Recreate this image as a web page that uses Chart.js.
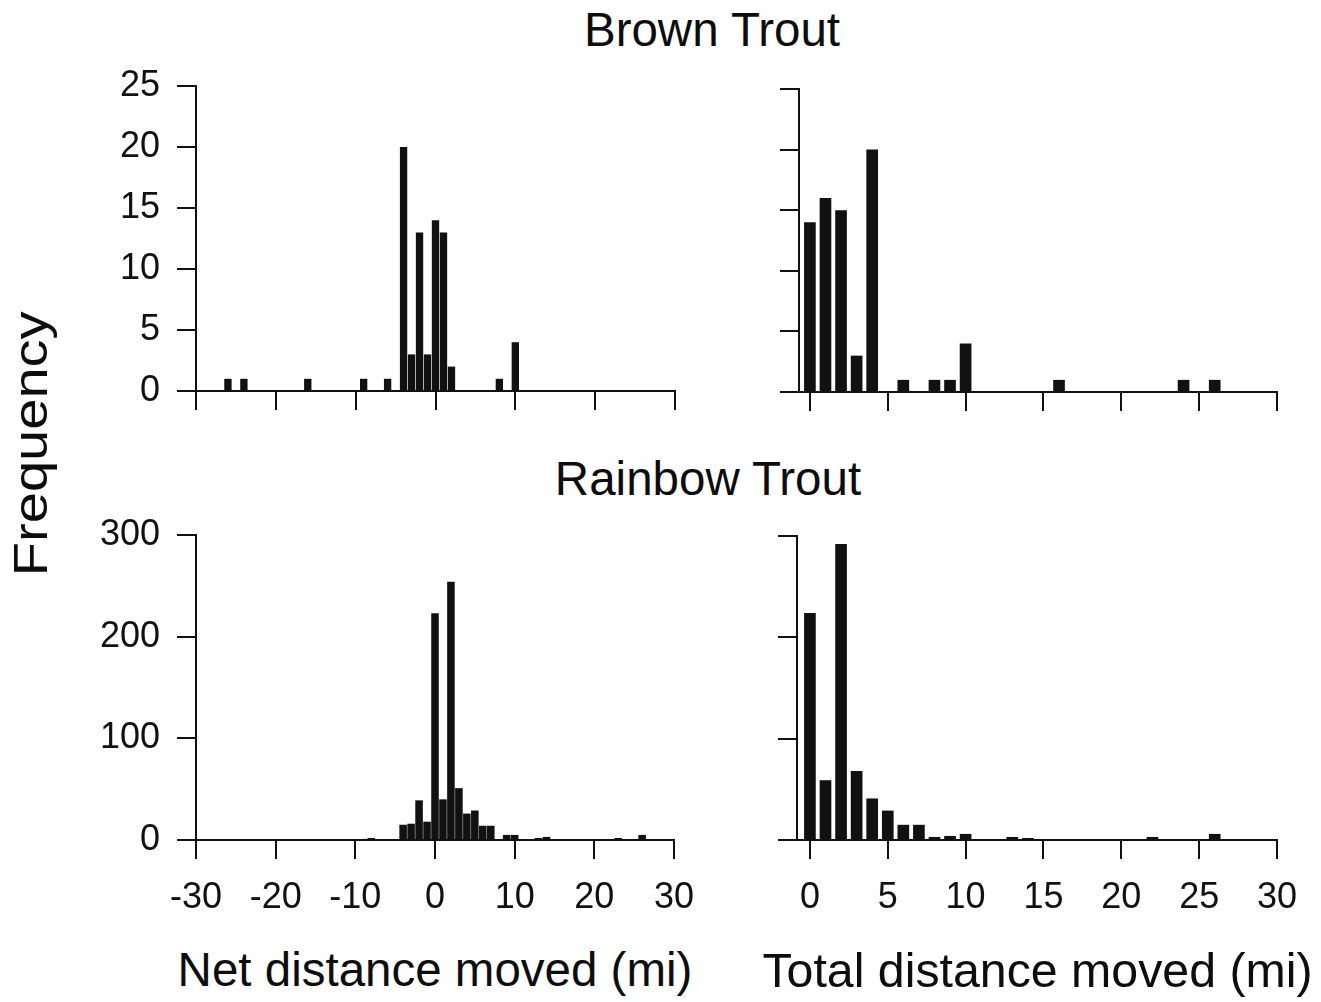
<!DOCTYPE html>
<html>
<head>
<meta charset="utf-8">
<script src="https://cdn.jsdelivr.net/npm/chart.js@4.4.1/dist/chart.umd.min.js"></script>
<style>
html,body{margin:0;padding:0;background:#fff;}
#wrap{position:relative;width:1321px;height:1002px;overflow:hidden;background:#fff;font-family:"Liberation Sans",Arial,sans-serif;color:#0d0d0d;}
canvas{position:absolute;}
.t{position:absolute;white-space:nowrap;font-size:47.5px;line-height:47.5px;text-align:center;width:700px;}
</style>
</head>
<body>
<div id="wrap">
  <div class="t" style="left:362px;top:5.5px;">Brown Trout</div>
  <div class="t" style="left:358px;top:455px;">Rainbow Trout</div>
  <div class="t" style="left:85px;top:946px;">Net distance moved (mi)</div>
  <div class="t" style="left:687.5px;top:945.5px;font-size:48.3px;line-height:48.3px;">Total distance moved (mi)</div>
  <div class="t" id="freq" style="left:-319px;top:420px;transform:rotate(-90deg) scaleX(1.18);">Frequency</div>
  <canvas id="c1" width="629" height="385" style="left:86px;top:46px;"></canvas>
  <canvas id="c2" width="558" height="383" style="left:759px;top:49px;"></canvas>
  <canvas id="c3" width="628" height="445" style="left:86px;top:495px;"></canvas>
  <canvas id="c4" width="560" height="444" style="left:757px;top:496px;"></canvas>
</div>
<script>
// ---- Data ----
// Brown trout, net distance moved (mi): bin centre and frequency
const brownNetBins = [-26, -24, -16, -9, -6, -4, -3, -2, -1, 0, 1, 2, 8, 10];
const brownNetFreq = [1, 1, 1, 1, 1, 20, 3, 13, 3, 14, 13, 2, 1, 4];
// Brown trout, total distance moved (mi)
const brownTotalBins = [0, 1, 2, 3, 4, 6, 8, 9, 10, 16, 24, 26];
const brownTotalFreq = [14, 16, 15, 3, 20, 1, 1, 1, 4, 1, 1, 1];
// Rainbow trout, net distance moved (mi)
const rainbowNetBins = [-27, -21, -13, -11, -10, -9, -8, -4, -3, -2, -1, 0, 1, 2, 3, 4, 5, 6, 7, 9, 10, 13, 14, 19, 22, 23, 26];
const rainbowNetFreq = [1, 1, 1, 1, 1, 1, 2, 15, 16, 39, 18, 223, 40, 254, 51, 26, 29, 14, 14, 5, 5, 2, 3, 1, 1, 2, 5];
// Rainbow trout, total distance moved (mi)
const rainbowTotalBins = [0, 1, 2, 3, 4, 5, 6, 7, 8, 9, 10, 12, 13, 14, 19, 20, 22, 24, 25, 26, 27, 28];
const rainbowTotalFreq = [224, 59, 292, 68, 41, 29, 15, 15, 3, 4, 6, 1, 3, 2, 1, 1, 3, 1, 1, 6, 1, 1];
// Tick labels
const netTicks = [-30, -20, -10, 0, 10, 20, 30];
const totalTicks = [0, 5, 10, 15, 20, 25, 30];
const brownFreqTicks = [0, 5, 10, 15, 20, 25];
const rainbowFreqTicks = [0, 100, 200, 300];

const INK = '#111111';
const FAMILY = '"Liberation Sans", Arial, sans-serif';
Chart.defaults.font.family = FAMILY;
Chart.defaults.color = INK;

function panel(id, bins, freq, cfg) {
  const pts = bins.map((x, i) => ({ x: x, y: freq[i] }));
  const gridOpts = {
    display: true, drawOnChartArea: false, drawTicks: true,
    tickLength: 19, tickWidth: 2, color: INK, lineWidth: 2, offset: false
  };
  return new Chart(document.getElementById(id), {
    type: 'bar',
    data: {
      datasets: [{
        data: pts,
        backgroundColor: INK,
        borderWidth: 0,
        barPercentage: cfg.bar,
        categoryPercentage: 1
      }]
    },
    options: {
      responsive: false,
      animation: false,
      events: [],
      layout: { padding: { top: 40, right: 40, left: 0, bottom: 0 } },
      plugins: { legend: { display: false }, tooltip: { enabled: false } },
      scales: {
        x: {
          type: 'linear', min: cfg.xmin, max: cfg.xmax, offset: false,
          afterFit: s => { s.height = cfg.xh; },
          afterBuildTicks: s => { s.ticks = cfg.xticks.map(v => ({ value: v })); },
          grid: gridOpts,
          border: { display: true, color: INK, width: 2 },
          ticks: { display: cfg.xlabels, padding: 17, color: INK, font: { size: 36 }, maxRotation: 0, autoSkip: false }
        },
        y: {
          type: 'linear', min: 0, max: cfg.ymax,
          afterFit: s => { s.width = cfg.yw; },
          afterBuildTicks: s => { s.ticks = cfg.yticks.map(v => ({ value: v })); },
          grid: gridOpts,
          border: { display: true, color: INK, width: 2 },
          ticks: { display: cfg.ylabels, padding: 17, color: INK, font: { size: 36 }, autoSkip: false }
        }
      }
    }
  });
}

panel('c1', brownNetBins, brownNetFreq, { xmin: -30, xmax: 30, ymax: 25, xticks: netTicks, yticks: brownFreqTicks, xlabels: false, ylabels: true, xh: 40, yw: 110, bar: 0.92 });
panel('c2', brownTotalBins, brownTotalFreq, { xmin: -0.7, xmax: 30, ymax: 25, xticks: totalTicks, yticks: brownFreqTicks, xlabels: false, ylabels: false, xh: 40, yw: 40, bar: 0.75 });
panel('c3', rainbowNetBins, rainbowNetFreq, { xmin: -30, xmax: 30, ymax: 300, xticks: netTicks, yticks: rainbowFreqTicks, xlabels: true, ylabels: true, xh: 100, yw: 110, bar: 0.95 });
panel('c4', rainbowTotalBins, rainbowTotalFreq, { xmin: -0.83, xmax: 30, ymax: 300, xticks: totalTicks, yticks: rainbowFreqTicks, xlabels: true, ylabels: false, xh: 100, yw: 40, bar: 0.75 });
</script>
</body>
</html>
